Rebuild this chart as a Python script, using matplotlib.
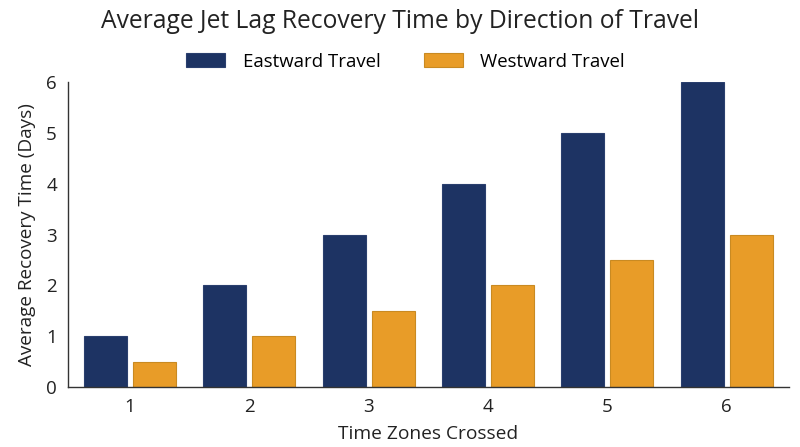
import matplotlib
matplotlib.use("Agg")
import matplotlib.pyplot as plt
import numpy as np

zones = [1, 2, 3, 4, 5, 6]
eastward = [1, 2, 3, 4, 5, 6]
westward = [0.5, 1, 1.5, 2, 2.5, 3]
series_names = ["Eastward Travel", "Westward Travel"]

plt.rcParams['font.family'] = ['Open Sans', 'DejaVu Sans']

fig = plt.figure(figsize=(8, 4.47), dpi=100)
ax = fig.add_axes([0.085, 0.134, 0.901, 0.682])

x = np.array(zones, dtype=float)
w = 0.36
off = 0.205
navy = "#1d3363"
orange = "#e89c28"
ax.bar(x - off, eastward, w, color=navy, edgecolor="#2a3f6e", linewidth=0.8, label=series_names[0])
ax.bar(x + off, westward, w, color=orange, edgecolor="#c98a22", linewidth=0.8, label=series_names[1])

ax.set_xlim(0.48, 6.52)
ax.set_ylim(0, 6)
ax.set_xticks(x)
ax.set_xticklabels([str(z) for z in zones])
ax.set_yticks(range(0, 7))
ax.tick_params(axis='both', length=0, labelsize=13.5, colors="#222222", pad=8)
for s in ["top", "right"]:
    ax.spines[s].set_visible(False)
for s in ["left", "bottom"]:
    ax.spines[s].set_color("#333333")
    ax.spines[s].set_linewidth(1.0)

ax.set_xlabel("Time Zones Crossed", fontsize=13.8, color="#222222", labelpad=6)
ax.set_ylabel("Average Recovery Time (Days)", fontsize=13.6, color="#222222", labelpad=7)

fig.text(0.5, 0.953, "Average Jet Lag Recovery Time by Direction of Travel",
         ha="center", va="center", fontsize=17.7, color="#222222")
fig.legend(loc="center", bbox_to_anchor=(0.507, 0.862), ncol=2, frameon=False,
           fontsize=13.4, handlelength=2.1, handleheight=0.8, columnspacing=2.3,
           handletextpad=0.95)

fig.savefig("out.png", dpi=100)
